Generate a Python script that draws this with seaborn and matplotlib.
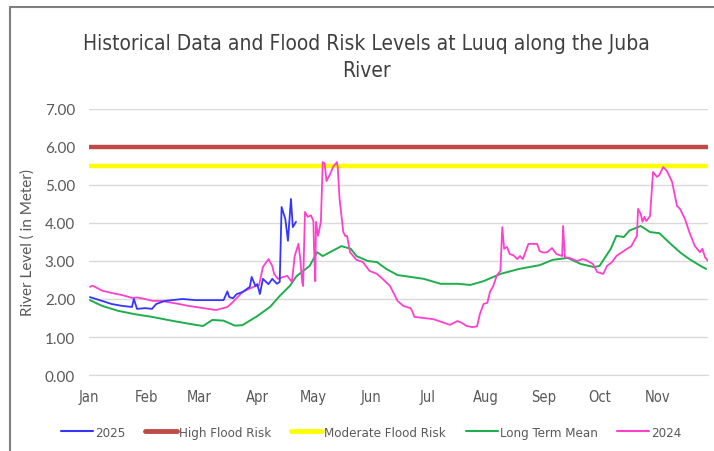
import numpy as np
import pandas as pd
import matplotlib
matplotlib.use("Agg")
import matplotlib.pyplot as plt
from matplotlib.lines import Line2D
from matplotlib import font_manager
import seaborn as sns

# Day of year (Jan 1 = 0) and river level in metres
days_2025 = [0.5, 7, 12, 17.6, 23, 24, 25.7, 30, 33.7, 36, 40.6, 50, 57, 65, 72,
             74, 75, 77, 79, 82, 86, 87, 89, 90, 91.4, 93, 96, 98, 100.5, 102,
             103, 105, 106.4, 108, 109, 110.7]
level_2025 = [2.05, 1.95, 1.87, 1.82, 1.79, 2.00, 1.74, 1.76, 1.74, 1.87, 1.95,
              2.00, 1.97, 1.97, 1.97, 2.20, 2.05, 2.02, 2.13, 2.18, 2.32, 2.58,
              2.34, 2.39, 2.13, 2.53, 2.39, 2.53, 2.40, 2.45, 4.42, 4.10, 3.53,
              4.63, 3.89, 4.03]

days_mean = [0.5, 7, 15.5, 24.6, 33.7, 42, 51, 57, 61, 66, 72, 78, 82, 90, 97,
             102, 107.5, 111, 118, 122, 125, 130, 135, 140, 143, 149, 154, 159,
             165, 172, 179, 188, 197, 204, 211, 220, 230, 241, 248, 256, 263,
             270, 273, 279, 282, 286, 289, 295, 300, 305, 311, 316, 321, 327, 330]
level_mean = [1.97, 1.82, 1.69, 1.60, 1.53, 1.45, 1.37, 1.32, 1.29, 1.45, 1.43,
              1.30, 1.31, 1.55, 1.80, 2.08, 2.35, 2.60, 2.87, 3.23, 3.13, 3.26,
              3.39, 3.32, 3.13, 3.00, 2.97, 2.79, 2.63, 2.58, 2.53, 2.40, 2.40,
              2.37, 2.47, 2.66, 2.79, 2.89, 3.03, 3.08, 2.92, 2.84, 2.87, 3.32,
              3.66, 3.63, 3.80, 3.92, 3.76, 3.73, 3.45, 3.23, 3.05, 2.87, 2.79]

days_2024 = [0.5, 2, 7, 12, 18, 23, 26, 30, 34, 39, 42, 48, 53, 57, 61, 68, 74,
             77, 82, 88, 91, 93, 96, 98, 99, 101, 104, 106, 108.5, 110, 112, 113,
             114, 114.5, 115.5, 117, 118.7, 120, 120.3, 121, 121.4, 122.5, 124,
             125, 126, 127, 129, 130.5, 132.6, 133, 134, 136, 137, 138, 139.6,
             143, 146.5, 150, 154, 157, 161, 165, 168, 172, 173, 174, 179, 184,
             189, 193, 197, 199.5, 202, 205, 207.5, 209, 211, 213, 214.5, 216,
             218, 220, 221, 222, 223.5, 225, 227, 229, 230.5, 232, 235, 239.6,
             241, 243, 245, 247.6, 250, 253, 253.5, 254.5, 257, 261, 264, 266,
             269.5, 271.7, 275, 277, 279.7, 282, 285, 287.7, 290, 293, 293.6,
             295, 296, 297, 298, 300, 301.6, 303.7, 305, 307, 309, 311.8, 314.4,
             316, 318.7, 321, 324, 326.7, 328, 329.4, 331]
level_2024 = [2.32, 2.35, 2.22, 2.16, 2.10, 2.03, 2.04, 2.00, 1.95, 1.95, 1.92,
              1.87, 1.82, 1.79, 1.76, 1.71, 1.79, 1.92, 2.18, 2.32, 2.37, 2.84,
              3.05, 2.87, 2.66, 2.53, 2.58, 2.61, 2.45, 3.13, 3.45, 3.05, 2.45,
              2.34, 4.29, 4.16, 4.20, 4.05, 3.40, 2.47, 4.03, 3.66, 4.03, 5.60,
              5.57, 5.10, 5.29, 5.47, 5.60, 5.47, 4.63, 3.76, 3.66, 3.66, 3.23,
              3.03, 2.97, 2.74, 2.66, 2.53, 2.34, 1.95, 1.82, 1.76, 1.66, 1.53,
              1.50, 1.47, 1.39, 1.32, 1.42, 1.37, 1.29, 1.26, 1.28, 1.60, 1.87,
              1.90, 2.20, 2.32, 2.61, 2.74, 3.89, 3.32, 3.37, 3.18, 3.15, 3.05,
              3.13, 3.05, 3.45, 3.45, 3.26, 3.22, 3.23, 3.34, 3.18, 3.13, 3.92,
              3.10, 3.08, 3.00, 3.05, 3.02, 2.92, 2.71, 2.66, 2.87, 2.97, 3.13,
              3.23, 3.32, 3.39, 3.66, 4.37, 4.24, 4.03, 4.16, 4.05, 4.18, 5.34,
              5.21, 5.26, 5.47, 5.37, 5.08, 4.45, 4.37, 4.10, 3.76, 3.39, 3.23,
              3.32, 3.10, 3.00]

high_flood = 6.0
moderate_flood = 5.5

month_days = [0, 31, 59, 90, 120, 151, 181, 212, 243, 273, 304]
month_labels = ['Jan', 'Feb', 'Mar', 'Apr', 'May', 'Jun', 'Jul', 'Aug', 'Sep',
                'Oct', 'Nov']
y_ticks = [0, 1, 2, 3, 4, 5, 6, 7]

#%%

sns.set_style('white')
plt.rcParams['font.family'] = ['Lato', 'DejaVu Sans']

# Condensed face for the narrow texts of the chart
narrow = font_manager.FontProperties(family='DejaVu Sans', stretch='condensed')

grey_text = '#595959'
c_2025 = '#3535ff'
c_high = '#be4b48'
c_mod = '#ffff00'
c_mean = '#1fae4c'
c_2024 = '#ff40cc'

fig = plt.figure(figsize=(7.14, 4.52), dpi=100)
ax = fig.add_axes([0.1246, 0.168, 0.867, 0.589])

x_end = 331
ax.plot([0, x_end], [high_flood, high_flood], color=c_high, lw=3.2,
        solid_capstyle='butt', zorder=2)
ax.plot([0, x_end], [moderate_flood, moderate_flood], color=c_mod, lw=3.2,
        solid_capstyle='butt', zorder=2)

mean_df = pd.DataFrame({'day': days_mean, 'level': level_mean})
df_2024 = pd.DataFrame({'day': days_2024, 'level': level_2024})
df_2025 = pd.DataFrame({'day': days_2025, 'level': level_2025})

sns.lineplot(data=mean_df, x='day', y='level', color=c_mean, lw=1.4, ax=ax,
             zorder=3)
sns.lineplot(data=df_2024, x='day', y='level', color=c_2024, lw=1.3, ax=ax,
             zorder=4)
sns.lineplot(data=df_2025, x='day', y='level', color=c_2025, lw=1.3, ax=ax,
             zorder=5)

ax.set_xlim(0, x_end)
ax.set_ylim(0, 7)
ax.set_yticks(y_ticks)
ax.set_yticklabels(['{:.2f}'.format(v) for v in y_ticks], color=grey_text,
                   fontsize=11)
ax.set_xticks(month_days)
ax.set_xticklabels(month_labels, color=grey_text)
for lab in ax.get_xticklabels():
    lab.set_fontproperties(narrow)
    lab.set_fontsize(10.5)
ax.yaxis.grid(True, color='#d9d9d9', lw=1)
ax.set_axisbelow(True)
for side in ['top', 'right', 'left']:
    ax.spines[side].set_visible(False)
ax.spines['bottom'].set_color('#d9d9d9')
ax.tick_params(axis='x', length=4, color='#d9d9d9', pad=6)
ax.tick_params(axis='y', length=0, pad=10)
ax.set_xlabel('')
ax.set_ylabel('River Level ( in Meter)', color=grey_text, fontsize=11,
              labelpad=7)

title_font = narrow.copy()
title_font.set_size(15)
fig.text(0.513, 0.873, 'Historical Data and Flood Risk Levels at Luuq along the Juba\nRiver',
         ha='center', va='center', color='#404040',
         fontproperties=title_font, linespacing=1.45)

# Legend below the plot
handles = [Line2D([], [], color=c_2025, lw=1.5),
           Line2D([], [], color=c_high, lw=3.5),
           Line2D([], [], color=c_mod, lw=3.5),
           Line2D([], [], color=c_mean, lw=1.5),
           Line2D([], [], color=c_2024, lw=1.5)]
names = ['2025', 'High Flood Risk', 'Moderate Flood Risk', 'Long Term Mean', '2024']
leg_font = narrow.copy()
leg_font.set_size(9.5)
leg = fig.legend(handles, names, loc='center', bbox_to_anchor=(0.52, 0.042),
                 ncol=5, frameon=False, handlelength=2.4, handletextpad=0.15,
                 columnspacing=1.5, prop=leg_font)
for t in leg.get_texts():
    t.set_color(grey_text)

# Chart frame border (left and top edges visible)
fig.add_artist(Line2D([10 / 714, 10 / 714], [0, 1 - 8 / 452],
                      transform=fig.transFigure, color='#7f7f7f', lw=1.5))
fig.add_artist(Line2D([10 / 714, 1], [1 - 8 / 452, 1 - 8 / 452],
                      transform=fig.transFigure, color='#7f7f7f', lw=1.5))

fig.savefig('out.png', dpi=100)
